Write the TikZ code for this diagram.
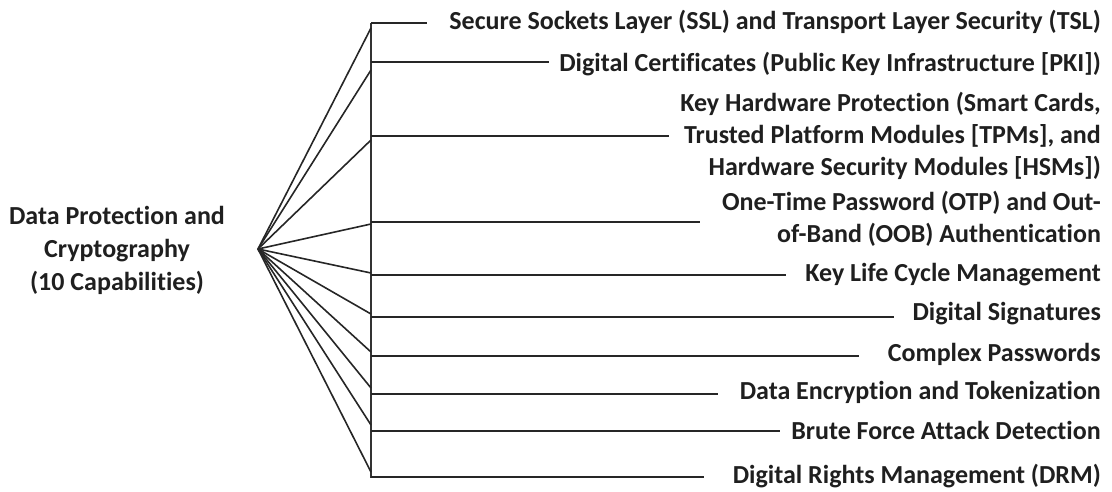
\documentclass[tikz,border=0pt]{standalone}
\usepackage{fontspec}
\setmainfont{Carlito}[Ligatures=NoCommon]
\begin{document}
\begin{tikzpicture}[x=1pt,y=-1pt,
  lbl/.style={font=\fontsize{26}{32}\selectfont\bfseries, text=black!88, inner sep=0pt},
  capnode/.style={lbl, anchor=east, align=right},
  wire/.style={draw=black!85, line width=1.6pt},
  bar/.style={draw=black!80, line width=1.4pt}]
\useasboundingbox (0,0) rectangle (1112,491);

% root label and fan apex
\node[lbl, align=center, font=\fontsize{26}{33}\selectfont\bfseries] (root) at (117,250) {Data Protection and\\Cryptography\\(10 Capabilities)};
\coordinate (apex) at (258,249);

% capability labels
\node[capnode] (c1)  at (1101,22)  {Secure Sockets Layer (SSL) and Transport Layer Security (TSL)};
\node[capnode] (c2)  at (1101,64)  {Digital Certificates (Public Key Infrastructure [PKI])};
\node[capnode] (c3)  at (1101,136) {Key Hardware Protection (Smart Cards,\\Trusted Platform Modules [TPMs], and\\Hardware Security Modules [HSMs])};
\node[capnode] (c4)  at (1101,219) {One-Time Password (OTP) and Out-\\of-Band (OOB) Authentication};
\node[capnode] (c5)  at (1101,275) {Key Life Cycle Management};
\node[capnode] (c6)  at (1101,314) {Digital Signatures};
\node[capnode] (c7)  at (1101,354) {Complex Passwords};
\node[capnode] (c8)  at (1101,392) {Data Encryption and Tokenization};
\node[capnode] (c9)  at (1101,430) {Brute Force Attack Detection};
\node[capnode] (c10) at (1101,476) {Digital Rights Management (DRM)};

% junction points on the vertical bar (h: branch line, d: fan ray)
\coordinate (top) at (371,23);
\coordinate (bot) at (371,478);
\foreach \i/\h/\d in {1/23/28, 2/62/70, 3/136/140, 4/222/224, 5/275/273,
                      6/317/314, 7/356/352, 8/394/388, 9/431/425, 10/477/472} {
  \coordinate (h\i) at (371,\h);
  \coordinate (d\i) at (371,\d);
}
% right ends of the branch lines
\foreach \i/\x in {1/427, 2/549, 3/669, 4/700, 5/786, 6/894, 7/859, 8/718, 9/780, 10/704} {
  \coordinate (e\i) at (\x,0);
}

\draw[bar] (top) -- (bot);
\foreach \i in {1,...,10} {
  \draw[wire] (apex) -- (d\i);
  \draw[wire] (h\i) -- (e\i |- h\i);
}
\end{tikzpicture}
\end{document}
